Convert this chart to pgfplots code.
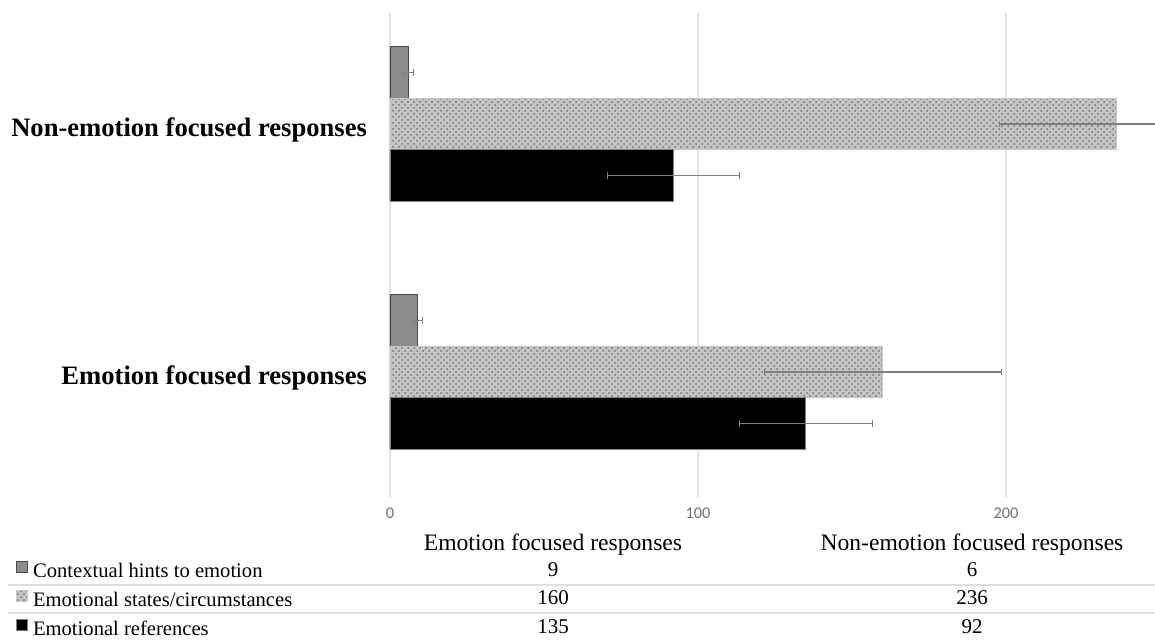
\documentclass[border=0pt]{standalone}
\usepackage{fontspec}
\setmainfont{Liberation Serif}
\newfontfamily\tickfont{Carlito}
\usepackage{pgfplots}
\pgfplotsset{compat=1.18}
\usetikzlibrary{patterns}
\definecolor{ctx}{HTML}{8C8C8C}
\definecolor{stt}{HTML}{C4C4C4}
\definecolor{errc}{HTML}{7F7F7F}
\pgfplotsset{myerr/.style={error bars/.cd, x dir=both, x explicit,
  error bar style={errc, line width=0.6pt},
  error mark=|,
  error mark options={draw=errc, mark size=1.6pt, line width=0.6pt}}}
\begin{document}
\begin{tikzpicture}
\useasboundingbox (-195pt,-72.5pt) rectangle (382.5pt,248.5pt);
\begin{axis}[
  at={(0pt,0pt)}, anchor=south west,
  x=1.54pt, y=124pt,
  xmin=0, xmax=248.4, ymin=-0.504, ymax=1.448,
  axis line style={draw=none},
  xbar,
  bar width=0.2077,
  xtick={0,100,200},
  ytick={0,1},
  yticklabels={Emotion focused responses, Non-emotion focused responses},
  major tick length=0pt,
  xmajorgrids, grid style={black!11, line width=0.6pt},
  xticklabel style={font=\tickfont\fontsize{8.2}{9}\selectfont, text=black!55, yshift=-2pt},
  yticklabel style={font=\bfseries\fontsize{13.3}{15}\selectfont, xshift=-8pt, yshift=-3pt},
  /pgf/number format/assume math mode=true,
  legend style={at={(axis description cs:-0.4895,-0.1315)}, anchor=north west,
    draw=none, fill=none, inner sep=0pt, row sep=4.1pt, column sep=2.5pt,
    font=\fontsize{10.3}{12}\selectfont,
    nodes={inner sep=0pt, text height=7pt, text depth=2.25pt}},
  legend cell align=left,
  legend image code/.code={\draw[#1] (0pt,0pt) rectangle (5.5pt,5.5pt);},
]
\addplot[fill=ctx, draw=black!70, line width=0.6pt, bar shift=0.2077, myerr]
  coordinates {(9,0) +- (1.6,0) (6,1) +- (1.7,0)};
\addlegendentry{Contextual hints to emotion}
\addplot[fill=stt, draw=black!22, line width=0.6pt, bar shift=0,
  postaction={pattern=crosshatch dots, pattern color=black!55}, myerr]
  coordinates {(160,0) +- (38.5,0) (236,1) +- (38,0)};
\addlegendentry{Emotional states/circumstances}
\addplot[fill=black, draw=black!50, line width=0.6pt, bar shift=-0.2077, myerr]
  coordinates {(135,0) +- (21.6,0) (92,1) +- (21.5,0)};
\addlegendentry{Emotional references}
\end{axis}
% data table below the chart
\begin{scope}[font=\fontsize{10.5}{12}\selectfont]
\draw[black!13, line width=0.8pt] (-191pt,-44pt) -- (382.5pt,-44pt);
\draw[black!13, line width=0.8pt] (-191pt,-58pt) -- (382.5pt,-58pt);
\node[anchor=base, font=\fontsize{11.8}{13}\selectfont] at (81.5pt,-26.5pt) {Emotion focused responses};
\node[anchor=base, font=\fontsize{11.8}{13}\selectfont] at (291pt,-26.5pt) {Non-emotion focused responses};
\node[anchor=base] at (81.5pt,-39.5pt) {9};
\node[anchor=base] at (291pt,-39.5pt) {6};
\node[anchor=base] at (81.5pt,-53.5pt) {160};
\node[anchor=base] at (291pt,-53.5pt) {236};
\node[anchor=base] at (81.5pt,-68pt) {135};
\node[anchor=base] at (291pt,-68pt) {92};
\end{scope}
\end{tikzpicture}
\end{document}
